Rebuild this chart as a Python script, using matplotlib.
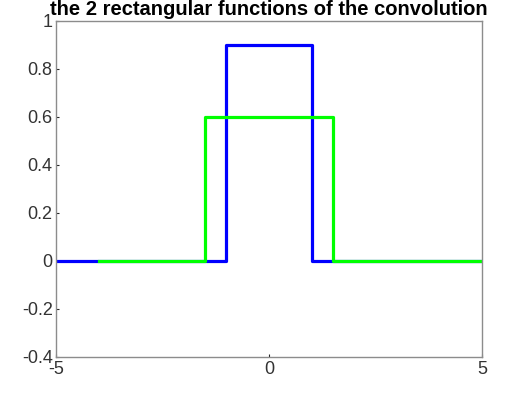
import matplotlib
matplotlib.use("Agg")
import matplotlib.pyplot as plt

# breakpoints of the two rectangular functions (steps-post)
blue_x = [-5, -1, 1, 5]
blue_y = [0, 0.9, 0, 0]
green_x = [-4, -1.5, 1.5, 5]
green_y = [0, 0.6, 0, 0]

x_ticks = [-5, 0, 5]
x_labels = ['-5', '0', '5']
y_ticks = [-0.4, -0.2, 0, 0.2, 0.4, 0.6, 0.8, 1]
y_labels = ['-0.4', '-0.2', '0', '0.2', '0.4', '0.6', '0.8', '1']

plt.rcParams['font.family'] = ['Liberation Sans', 'DejaVu Sans']

fig = plt.figure(figsize=(5.1, 3.94), dpi=100)
ax = fig.add_axes([0.110, 0.094, 0.835, 0.853])

ax.plot(blue_x, blue_y, drawstyle='steps-post', color='#0000ff', lw=2.3)
ax.plot(green_x, green_y, drawstyle='steps-post', color='#00ff00', lw=2.3)

ax.set_xlim(-5, 5)
ax.set_ylim(-0.4, 1)
ax.set_xticks(x_ticks)
ax.set_xticklabels(x_labels)
ax.set_yticks(y_ticks)
ax.set_yticklabels(y_labels)

for s in ax.spines.values():
    s.set_color('#8c8c8c')
    s.set_linewidth(1)
ax.tick_params(direction='in', length=2, width=0.8, color='#262626',
               labelsize=13, labelcolor='#333333')
ax.tick_params(axis='y', pad=2.5)
ax.tick_params(axis='x', pad=3)

ax.set_title('the 2 rectangular functions of the convolution',
             fontsize=14.5, fontweight='bold', pad=4)

fig.savefig('out.png', dpi=100)
